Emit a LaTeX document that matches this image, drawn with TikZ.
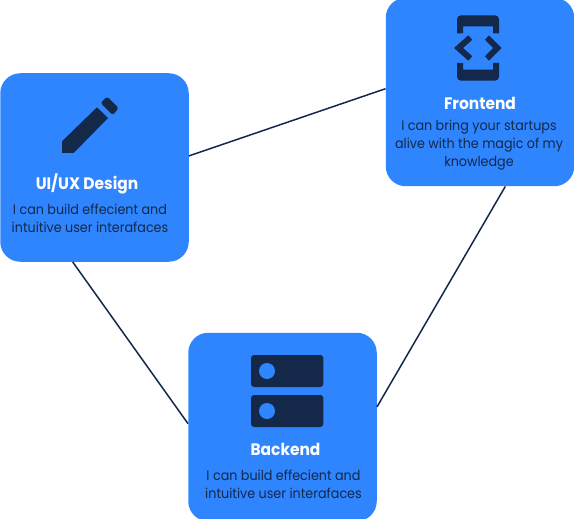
\documentclass[tikz,border=0pt]{standalone}
\usepackage{fontspec}
\setmainfont[FakeStretch=0.93]{Poppins}
\definecolor{cardblue}{HTML}{2E85FE}
\definecolor{navy}{HTML}{14284A}
\tikzset{
  card/.style={rectangle,fill=cardblue,draw=none,minimum width=188.5pt,minimum height=188.5pt,rounded corners=20pt,inner sep=0pt},
  link/.style={draw=navy,line width=1.5pt},
  heading/.style={inner sep=0pt,text=white,font=\fontsize{16.6pt}{18pt}\selectfont\bfseries,anchor=center},
  blurb/.style={inner sep=0pt,text=navy,align=center,font=\fontsize{13.7pt}{18pt}\selectfont,anchor=center},
  icon/.style={fill=navy,draw=none}
}
\begin{document}
\begin{tikzpicture}[x=1pt,y=-1pt]
\useasboundingbox (0,0) rectangle (574,519);
\begin{scope}
\clip (0,0) rectangle (574,519);
\node[card] (ui) at (94.5,167.5) {};
\node[card] (fe) at (480,92) {};
\node[card] (be) at (282.5,427) {};
\draw[link] (ui.7.5) -- (fe.178);
\draw[link] (fe.-75) -- (be.12.5);
\draw[link] (ui.-103.4) -- (be.178.8);
% pencil
\fill[icon] (62,141.3) -- (97,107.3) -- (108,118) -- (73.7,153) -- (62,153) -- cycle;
\fill[icon,rounded corners=2.5pt] (107,96.5) -- (118.7,108) -- (112.7,115.2) -- (100.5,103) -- cycle;
% frontend icon
\fill[icon] (457,33.3) [rounded corners=4pt] -- (457,15.3) -- (499,15.3) [sharp corners] -- (499,33.3) -- (493,33.3) -- (493,26.3) -- (463,26.3) -- (463,33.3) -- cycle;
\fill[icon] (457,63) [rounded corners=4pt] -- (457,80.7) -- (499,80.7) [sharp corners] -- (499,63) -- (493,63) -- (493,69.7) -- (463,69.7) -- (463,63) -- cycle;
\fill[icon] (454,48) -- (468.3,35.3) -- (472.3,39.7) -- (463,48) -- (472.3,56.3) -- (468.3,60.7) -- cycle;
\fill[icon] (501.7,48) -- (489,35.3) -- (485,39.7) -- (493,48) -- (485,56.3) -- (489,60.7) -- cycle;
% server icon
\fill[icon,rounded corners=3pt] (251,355) rectangle (323.3,387);
\fill[icon,rounded corners=3pt] (251,395) rectangle (323.3,427);
\fill[cardblue] (267,371) circle (8pt);
\fill[cardblue] (267,411) circle (8pt);
\node[heading] (t1) at (480,103) {Frontend};
\node[blurb] (b1) at (479,145) {I can bring your startups\\alive with the magic of my\\knowledge};
\node[heading] (t2) at (87,183.5) {UI/UX Design};
\node[blurb] (b2) at (90,218) {I can build effecient and\\intuitive user interafaces};
\node[heading] (t3) at (285.5,449) {Backend};
\node[blurb] (b3) at (283.5,484) {I can build effecient and\\intuitive user interafaces};
\end{scope}
\end{tikzpicture}
\end{document}
